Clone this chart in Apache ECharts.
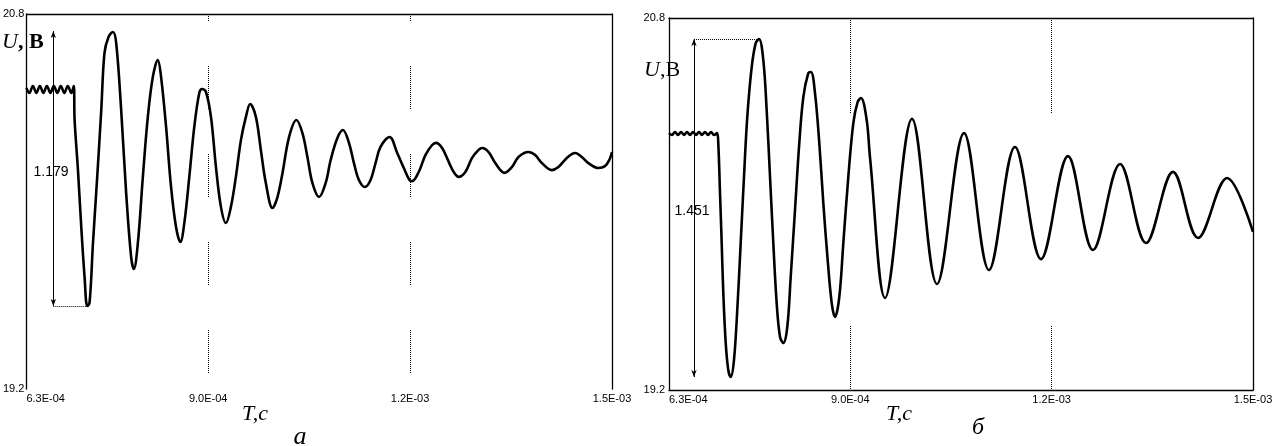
<!DOCTYPE html>
<html>
<head>
<meta charset="utf-8">
<script src="https://cdn.jsdelivr.net/npm/echarts@6/dist/echarts.min.js"></script>
<style>
	html, body { margin: 0; padding: 0; background: #fff; }
	#chart { width: 1284px; height: 446px; }
</style>
</head>
<body>
<div id="chart"></div>
<script type="text/javascript">
	// время в мкс, напряжение в В (панель а)
	var tA = [630.0, 634.4, 639.6, 644.8, 650.0, 655.2, 660.4, 665.6, 670.8, 675.9, 681.1, 686.3, 691.5, 696.7, 700.4,
		701.6, 706.6, 711.5, 716.4, 720.4,
		723.8, 728.9, 735.2, 741.2, 746.0, 752.0, 758.5,
		763.4, 770.8, 778.2, 785.6, 789.6,
		795.6, 803.0, 810.4, 817.8, 825.2,
		830.1, 837.5, 844.9, 852.3, 858.7,
		864.6, 872.0, 879.4, 886.8, 890.9, 896.8,
		904.2, 911.6, 919.0, 926.4,
		933.8, 941.2, 948.7, 956.1, 962.4,
		970.9, 978.3, 985.7, 995.6,
		1003.0, 1010.5, 1020.2, 1031.2,
		1040.1, 1047.5, 1054.9, 1064.7,
		1074.6, 1082.0, 1092.0, 1100.3,
		1109.2, 1116.6, 1124.0, 1132.9,
		1141.3, 1148.7, 1156.1, 1169.5,
		1180.9, 1190.7, 1199.1, 1203.1,
		1212.9, 1222.8, 1232.8, 1238.7,
		1247.6, 1257.4, 1264.8, 1272.2,
		1282.1, 1292.1, 1301.8, 1306.9,
		1316.7, 1326.6, 1340.4,
		1351.3, 1361.1, 1375.9,
		1385.9, 1395.8, 1410.6,
		1420.4, 1432.9, 1445.2,
		1455.1, 1464.9, 1479.7, 1489.6, 1496.0, 1500.0];
	var uA = [20.484, 20.463, 20.493, 20.463, 20.493, 20.463, 20.493, 20.463, 20.493, 20.463, 20.493, 20.463, 20.493, 20.463, 20.493,
		20.348, 20.134, 19.891, 19.678, 19.554,
		19.567, 19.823, 20.105, 20.390, 20.634, 20.702, 20.723,
		20.676, 20.390, 20.036, 19.763, 19.712,
		19.823, 20.105, 20.361, 20.531, 20.604,
		20.531, 20.318, 20.062, 19.891, 19.827,
		19.908, 20.105, 20.318, 20.463, 20.480, 20.467,
		20.361, 20.147, 19.977, 19.908,
		19.977, 20.105, 20.262, 20.361, 20.416,
		20.361, 20.220, 20.079, 19.972,
		20.019, 20.122, 20.275, 20.348,
		20.292, 20.190, 20.079, 20.019,
		20.079, 20.177, 20.271, 20.305,
		20.250, 20.164, 20.092, 20.062,
		20.092, 20.164, 20.233, 20.275,
		20.207, 20.143, 20.092, 20.087,
		20.126, 20.198, 20.241, 20.250,
		20.228, 20.169, 20.126, 20.105,
		20.126, 20.186, 20.220, 20.228,
		20.211, 20.164, 20.122,
		20.147, 20.190, 20.211,
		20.198, 20.164, 20.134,
		20.147, 20.186, 20.207,
		20.190, 20.164, 20.143, 20.151, 20.177, 20.211];

	// панель б
	var tB = [630.0, 634.5, 638.9, 643.4, 647.9, 652.3, 656.8, 661.3, 665.8, 670.2, 674.7, 679.2, 683.6, 688.1, 692.6, 697.0, 701.5,
		703.4, 706.0, 708.5, 710.9, 714.5, 718.3, 721.9,
		726.8, 731.7, 736.8, 741.7, 746.6, 753.2, 759.2, 764.1,
		770.5, 775.5, 780.5, 785.4, 790.4, 795.4, 800.3,
		806.2, 811.3, 817.7, 824.1, 830.1, 837.5, 841.5,
		847.5, 853.9, 859.9, 866.4, 872.4, 877.3,
		883.7, 889.7, 897.1, 904.6, 911.1, 916.0,
		924.5, 929.4,
		951.8, 992.0, 1029.2, 1069.5, 1106.7, 1145.4, 1184.2, 1224.4, 1261.6, 1301.9, 1340.6, 1380.8, 1418.1, 1461.3, 1500.0];
	var uB = [20.305, 20.297, 20.310, 20.297, 20.310, 20.297, 20.310, 20.297, 20.310, 20.297, 20.310, 20.297, 20.310, 20.297, 20.310, 20.297, 20.305,
		20.262, 20.047, 19.832, 19.617, 19.402, 19.286, 19.256,
		19.329, 19.544, 19.832, 20.116, 20.374, 20.589, 20.692, 20.710,
		20.619, 20.404, 20.116, 19.832, 19.574, 19.428, 19.402,
		19.471, 19.686, 19.974, 20.262, 20.460, 20.563, 20.568,
		20.477, 20.262, 20.004, 19.759, 19.574, 19.514,
		19.600, 19.832, 20.116, 20.348, 20.439, 20.456,
		20.361, 20.202,
		19.596, 20.366, 19.656, 20.305, 19.716, 20.245, 19.763, 20.206, 19.802, 20.172, 19.832, 20.138, 19.854, 20.112, 19.880];

	// метки осей
	var xTicks = [630, 900, 1200, 1500];
	var yTicks = [19.2, 20.8];

	// размах: [t, верх, низ, конец пунктира, уровень пунктира]
	var spanA = [670.0, 20.727, 19.554, 720.4, 19.554];
	var spanB = [667.2, 20.710, 19.256, 764.1, 20.710];
	var spanLabels = ['1.179', '1.451'];

	function sci(v) {
		var s = (v * 1e-6).toExponential(1).split('e');
		var e = parseInt(s[1], 10);
		return s[0] + 'E' + (e < 0 ? '-' : '+') + (Math.abs(e) < 10 ? '0' : '') + Math.abs(e);
	}

	function pairs(t, u) {
		return t.map(function(v, i) { return [v, u[i]]; });
	}

	// пунктирная сетка с разрывами
	function dots(onLen, offLen) {
		var a = [];
		for (var i = 0; i < onLen / 2 - 1; i++) { a.push(1, 1); }
		a.push(1, offLen + 1);
		return a;
	}

	var axisColor = '#000';
	var lblFont = 'Liberation Sans';

	function xBottom(gi, showLine, dash, offset) {
		return {
			type: 'value', gridIndex: gi, position: 'bottom',
			min: 630, max: 1500,
			axisLine: { show: showLine, onZero: false, lineStyle: { color: axisColor, width: 1.3 } },
			axisTick: { show: false, customValues: xTicks },
			axisLabel: {
				customValues: xTicks, formatter: sci, color: '#000',
				fontFamily: lblFont, fontSize: 11, margin: 4,
				alignMinLabel: 'left'
			},
			splitLine: { show: true, lineStyle: { color: '#000', width: 1, type: dash, dashOffset: offset } }
		};
	}

	function xTop(gi) {
		return {
			type: 'value', gridIndex: gi, position: 'top', min: 630, max: 1500,
			axisLine: { show: true, onZero: false, lineStyle: { color: axisColor, width: 1.3 } },
			axisTick: { show: false }, axisLabel: { show: false }, splitLine: { show: false }
		};
	}

	function yLeft(gi, margin) {
		return {
			type: 'value', gridIndex: gi, position: 'left',
			min: yTicks[0], max: yTicks[1], interval: 1.6,
			axisLine: { show: true, onZero: false, lineStyle: { color: axisColor, width: 1.3 } },
			axisTick: { show: false },
			axisLabel: {
				color: '#000', fontFamily: lblFont, fontSize: 11, margin: margin,
				formatter: function(v) { return v.toFixed(1); }
			},
			splitLine: { show: false }
		};
	}

	function yRight(gi) {
		return {
			type: 'value', gridIndex: gi, position: 'right', min: yTicks[0], max: yTicks[1],
			axisLine: { show: true, onZero: false, lineStyle: { color: axisColor, width: 1.3 } },
			axisTick: { show: false }, axisLabel: { show: false }, splitLine: { show: false }
		};
	}

	// стрелка размаха и пунктир к экстремуму
	function spanMark(s) {
		return {
			silent: true,
			symbol: ['none', 'none'],
			label: { show: false },
			emphasis: { disabled: true },
			lineStyle: { color: '#000', width: 1, type: 'solid' },
			data: [
				[{ coord: [s[0], s[1]], symbol: 'arrow', symbolSize: [4, 7] },
				 { coord: [s[0], s[2]], symbol: 'arrow', symbolSize: [4, 7] }],
				[{ coord: [s[0], s[4]], lineStyle: { type: 'dotted' } },
				 { coord: [s[3], s[4]] }]
			]
		};
	}

	var serif = '"Liberation Serif", "DejaVu Serif", serif';

	var chart = echarts.init(document.getElementById('chart'), null, { renderer: 'canvas' });
	var option = {
		animation: false,
		backgroundColor: '#fff',
		grid: [
			{ left: 25, top: 14, width: 587, height: 375 },
			{ left: 669, top: 18, width: 584, height: 372 }
		],
		xAxis: [
			xBottom(0, false, dots(44, 44), 36),
			xTop(0),
			xBottom(1, true, dots(96, 212), 0),
			xTop(1)
		],
		yAxis: [yLeft(0, 2), yRight(0), yLeft(1, 4), yRight(1)],
		series: [{
			type: 'line', xAxisIndex: 0, yAxisIndex: 0,
			data: pairs(tA, uA),
			showSymbol: false, smooth: 0.36,
			lineStyle: { color: '#000', width: 2.6 },
			markLine: spanMark(spanA)
		}, {
			type: 'line', xAxisIndex: 2, yAxisIndex: 2,
			data: pairs(tB, uB),
			showSymbol: false, smooth: 0.36,
			lineStyle: { color: '#000', width: 2.6 },
			markLine: spanMark(spanB)
		}],
		graphic: [
			{ type: 'text', x: 2, y: 42, style: {
				text: '{i|U}{n|, }{b|B}', verticalAlign: 'middle', fill: '#000',
				rich: {
					i: { font: 'italic 22px ' + serif },
					n: { font: 'bold 22px ' + serif },
					b: { font: 'bold 22px ' + serif }
				} } },
			{ type: 'text', x: 644, y: 70, style: {
				text: '{i|U}{n|,B}', verticalAlign: 'middle', fill: '#000',
				rich: {
					i: { font: 'italic 22px ' + serif },
					n: { font: '22px ' + serif }
				} } },
			{ type: 'text', x: 255, y: 414, style: { text: 'T,c', font: 'italic 22px ' + serif, align: 'center', verticalAlign: 'middle', fill: '#000' } },
			{ type: 'text', x: 899, y: 414, style: { text: 'T,c', font: 'italic 22px ' + serif, align: 'center', verticalAlign: 'middle', fill: '#000' } },
			{ type: 'text', x: 300, y: 437, style: { text: 'a', font: 'italic 26px ' + serif, align: 'center', verticalAlign: 'middle', fill: '#000' } },
			{ type: 'text', x: 978, y: 428, style: { text: 'б', font: 'italic 24px ' + serif, align: 'center', verticalAlign: 'middle', fill: '#000' } },
			{ type: 'text', x: 51, y: 172, style: { text: spanLabels[0], font: '14px ' + lblFont, align: 'center', verticalAlign: 'middle', fill: '#000' } },
			{ type: 'text', x: 692, y: 211, style: { text: spanLabels[1], font: '14px ' + lblFont, align: 'center', verticalAlign: 'middle', fill: '#000' } }
		]
	};
	chart.setOption(option);
</script>
</body>
</html>
